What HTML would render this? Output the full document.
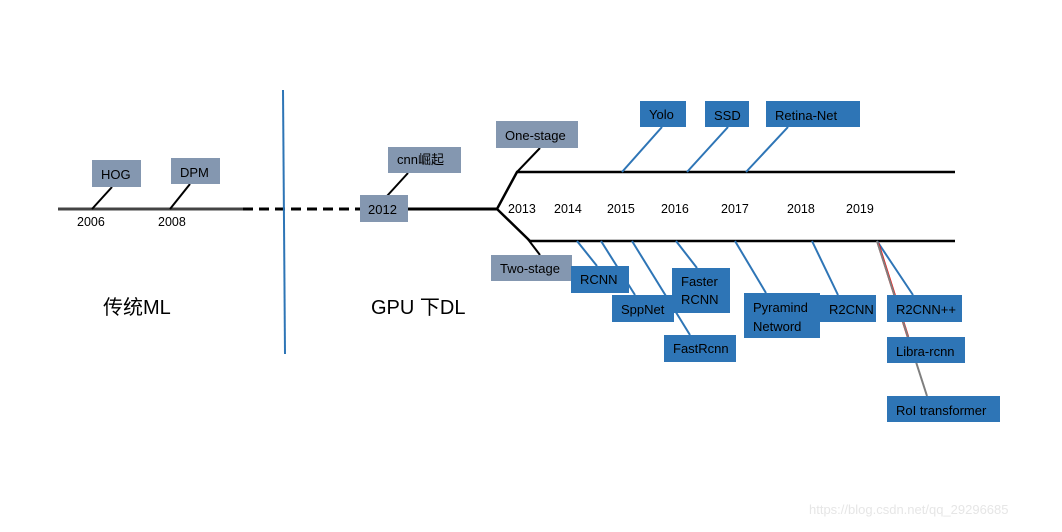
<!DOCTYPE html>
<html><head><meta charset="utf-8"><style>
body{margin:0;background:#fff;}
svg text{font-family:"Liberation Sans","Noto Sans CJK SC",sans-serif;}
</style></head><body>
<svg width="1062" height="527" viewBox="0 0 1062 527" xmlns="http://www.w3.org/2000/svg">
<rect width="1062" height="527" fill="#fff"/>
<!-- main timeline -->
<line x1="58" y1="209" x2="243" y2="209" stroke="#444" stroke-width="3"/>
<line x1="243" y1="209" x2="360" y2="209" stroke="#000" stroke-width="3" stroke-dasharray="10,6"/>
<line x1="408" y1="209" x2="497" y2="209" stroke="#000" stroke-width="3"/>
<line x1="283" y1="90" x2="285" y2="354" stroke="#2e75b6" stroke-width="2"/>
<!-- branches -->
<polyline points="497,209 517,172 955,172" fill="none" stroke="#000" stroke-width="2.5"/>
<polyline points="497,209 530,241 955,241" fill="none" stroke="#000" stroke-width="2.5"/>
<line x1="517" y1="172" x2="540" y2="148" stroke="#000" stroke-width="2"/>
<line x1="527" y1="238" x2="540" y2="255" stroke="#000" stroke-width="2"/>
<line x1="92" y1="209" x2="112" y2="187" stroke="#000" stroke-width="2"/>
<line x1="170" y1="209" x2="190" y2="184" stroke="#000" stroke-width="2"/>
<line x1="387" y1="196" x2="408" y2="173" stroke="#000" stroke-width="2"/>
<!-- upper connectors -->
<g stroke="#2e75b6" stroke-width="2">
<line x1="622" y1="172" x2="662" y2="127"/>
<line x1="687" y1="172" x2="728" y2="127"/>
<line x1="746" y1="172" x2="788" y2="127"/>
<line x1="577" y1="241" x2="597" y2="266"/>
<line x1="601" y1="241" x2="635" y2="295"/>
<line x1="632" y1="241" x2="690" y2="335"/>
<line x1="676" y1="241" x2="697" y2="268"/>
<line x1="735" y1="241" x2="766" y2="293"/>
<line x1="812" y1="241" x2="838" y2="295"/>
<line x1="877" y1="241" x2="913" y2="295"/>
</g>
<line x1="878" y1="243" x2="908" y2="337" stroke="#ff0000" stroke-width="2.5"/>
<line x1="877" y1="241" x2="927" y2="396" stroke="#7f7f7f" stroke-width="2"/>
<!-- gray boxes -->
<g fill="#8497b0">
<rect x="92" y="160" width="49" height="27"/>
<rect x="171" y="158" width="49" height="26"/>
<rect x="360" y="195" width="48" height="27"/>
<rect x="388" y="147" width="73" height="26"/>
<rect x="496" y="121" width="82" height="27"/>
<rect x="491" y="255" width="81" height="26"/>
</g>
<!-- blue boxes -->
<g fill="#2e75b6">
<rect x="640" y="101" width="46" height="26"/>
<rect x="705" y="101" width="44" height="26"/>
<rect x="766" y="101" width="94" height="26"/>
<rect x="571" y="266" width="58" height="27"/>
<rect x="612" y="295" width="62" height="27"/>
<rect x="672" y="268" width="58" height="45"/>
<rect x="664" y="335" width="72" height="27"/>
<rect x="744" y="293" width="76" height="45"/>
<rect x="820" y="295" width="56" height="27"/>
<rect x="887" y="295" width="75" height="27"/>
<rect x="887" y="337" width="78" height="26"/>
<rect x="887" y="396" width="113" height="26"/>
</g>
<g font-size="13" fill="#000">
<text x="101" y="179">HOG</text>
<text x="180" y="177">DPM</text>
<text x="368" y="214">2012</text>
<text x="397" y="164">cnn崛起</text>
<text x="505" y="140">One-stage</text>
<text x="500" y="273">Two-stage</text>
<text x="649" y="119">Yolo</text>
<text x="714" y="120">SSD</text>
<text x="775" y="120">Retina-Net</text>
<text x="580" y="284">RCNN</text>
<text x="621" y="314">SppNet</text>
<text x="681" y="286">Faster</text>
<text x="681" y="304">RCNN</text>
<text x="673" y="353">FastRcnn</text>
<text x="753" y="312">Pyramind</text>
<text x="753" y="331">Netword</text>
<text x="829" y="314">R2CNN</text>
<text x="896" y="314">R2CNN++</text>
<text x="896" y="356">Libra-rcnn</text>
<text x="896" y="415">RoI transformer</text>
</g>
<g font-size="12.5" fill="#000">
<text x="77" y="226">2006</text>
<text x="158" y="226">2008</text>
<text x="508" y="213">2013</text>
<text x="554" y="213">2014</text>
<text x="607" y="213">2015</text>
<text x="661" y="213">2016</text>
<text x="721" y="213">2017</text>
<text x="787" y="213">2018</text>
<text x="846" y="213">2019</text>
</g>
<text x="103" y="314" font-size="20" fill="#000">传统ML</text>
<text x="371" y="314" font-size="20" fill="#000">GPU 下DL</text>
<text x="809" y="514" font-size="13" fill="#e6e6e6">https://blog.csdn.net/qq_29296685</text>
</svg>
</body></html>
